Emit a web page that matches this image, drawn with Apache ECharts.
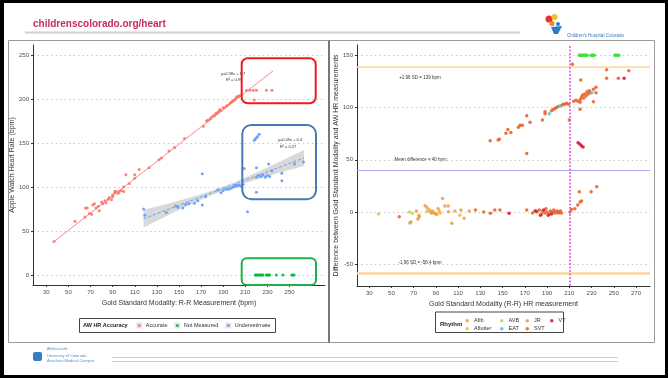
<!DOCTYPE html>
<html><head><meta charset="utf-8">
<script src="https://cdn.jsdelivr.net/npm/echarts@6/dist/echarts.min.js"></script>
<style>html,body{margin:0;padding:0;background:#fff}#c{width:668px;height:378px}</style>
</head><body><div id="c"></div>
<script>
// ---------- LEFT PLOT DATA (Apple Watch HR vs Gold standard) ----------
const accurate = [[37,38],[56,61],[65,66],[65.5,76],[67,76],[69,70],[71,69],[72,79.5],[73.5,81],[75,76],[77,78],[78,73],[80,83],[81,81],[83,84.5],[84,82],[86,86],[87,88],[89,85.5],[90,91],[90,89],[92,93.5],[92,95],[93,95],[95,93],[96,95],[98,96],[100,95],[100,100],[102,114],[105,104],[110,110],[110,114],[114,120],[123,122],[132,131],[134,133],[141,141],[146,145],[155,155],[172,169],[175,175],[176,176],[178,177],[179,179],[181,181],[182,181],[183,183],[184,184],[185,184],[186,186],[187,188],[188,187],[190,190],[191,190],[193,192],[194,193],[196,195],[197,196],[198,197],[199,198],[200,199],[201,200],[202,202],[203,203],[204,203],[205,204],[211,210],[214,210],[217,210],[220,210],[229,210],[234,210],[218,199]];
const notMeasured = [[219,0],[220,0],[221,0],[222,0],[223,0],[224,0],[225,0],[226,0],[229,0],[230,0],[231,0],[232,0],[238,0],[244,0],[252,0],[253,0],[254,0]];
const underestimate = [[118,75],[119,68],[138.5,71],[147,78.4],[149,77],[153.5,76],[156,80],[159,81],[164,81.4],[167,84.4],[171,115],[171,79.5],[174,89],[185,96.6],[188,93.5],[190,96],[192.7,97.3],[195,97.3],[197,98.6],[198.6,99.8],[200,100.6],[201.6,102],[203,101],[204.5,102],[206,101],[208,103],[209,121],[212,72],[218,153],[219,154.5],[220,156],[221,157.5],[222.5,160],[220,122],[220,94],[220,111],[222,113],[224,112],[226,114],[228,111],[230,113],[232,112],[231,126],[234,118.5],[243,115.5],[243,107],[254.5,126],[262.5,128.5]];
const fitAccurate = [[37,38],[235,232]];
const fitUnder = [[118,64],[263,133]];
const bandX = [118,140,160,180,200,220,240,263];
const bandLow = [54,68,80,91,100.5,108.5,116,124];
const bandHigh = [74,81,88,96,105.5,116.5,128,142];
const leftXTicks = [30,50,70,90,110,130,150,170,190,210,230,250];
const leftYTicks = [0,50,100,150,200,250];

// ---------- RIGHT PLOT DATA (Bland-Altman style) ----------
const afib = [[72.5,1],[74.7,-3],[80.3,6],[82,4],[84,2],[87,1],[89,-1],[92,3],[96,13],[98,5.7],[101,5.7],[101.4,0.3],[104.3,-10.8],[107,1],[112.5,2],[115.4,-6],[120,1]];
const aflutter = [[85,0],[88,-1],[91,-2.5],[93,1],[94,-1],[111.5,-3]];
const avb = [[38.4,-2],[66.2,0],[69,-1.3],[82,0.5]];
const eat = [[192,94],[201.7,101.4],[230.2,114.2]];
const jr = [[66.6,-10.5],[67.5,-9.5],[73.8,-6.7],[75,-4.5],[86,-1],[90,-2]];
const svt = [[57,-4.5],[138.8,68.2],[146,68.9],[147,69.5],[153,75.3],[154.7,79],[157.4,76],[164.2,81],[165.7,83],[167.7,83],[171.7,92],[171.7,56],[174.7,86],[185.8,88],[188.2,96],[188.2,94],[194,97],[195.5,98],[197,99],[198.5,100],[200,101],[203,102],[204.5,103],[206,103],[207.5,104],[209.2,103],[210,88],[212.8,141.3],[214,106],[216,107],[218,106],[219.7,98.3],[219.7,105],[220.3,126.3],[220,108],[221,110],[222,112],[223,109],[224,113],[225,111],[226,115],[227,113],[228,116],[229,114],[231.7,105.6],[231.7,117.5],[234,119.3],[234,114],[243.6,136],[243.6,128],[254.1,128],[263.5,135.2],[125.6,2],[133,0],[139,-1.3],[143,2],[147.6,2],[171.7,2],[177,-1],[179,1],[181,0],[183,2],[185,-2],[186,1],[188,-1],[189,3],[190,0],[192,-2],[193,1],[195,0],[196,2],[197,-1],[198,0],[199,1],[200,-1],[201,0],[202,1],[203,-1],[210.7,0],[212,2.5],[215,3],[217.6,6.7],[219.7,9.6],[221,10.5],[219,19.4],[229.6,19.4],[234.7,24.2]];
const vt = [[155.8,-1.3],[180,1],[184,-3],[187,2],[191,-3],[194,-2],[217.9,66.3],[219.4,65],[220.9,63.5],[222.4,62.2],[259.3,128]];
const notMeasuredDiff = [[219,150],[220,150],[221,150],[222,150],[223,150],[224,150],[225,150],[226,150],[229.6,150],[230.5,150],[231.5,150],[232.5,150],[251,150],[252,150],[253,150],[254.5,150]];
const upperSD = 139, meanDiff = 40, lowerSD = -58.4, cutoffX = 210;
const rightXTicks = [30,50,70,90,110,130,150,170,190,210,230,250,270];
const rightYTicks = [-50,0,50,100,150];

const FONT = "'Liberation Sans', Arial, sans-serif";

function xAx(gi, min, max, ticks, name, gap) {
  return {type:'value', gridIndex:gi, min, max, name, nameLocation:'middle', nameGap:gap,
    nameTextStyle:{fontSize:7, color:'#333', fontFamily:FONT},
    axisLine:{show:true, onZero:false, lineStyle:{color:'#333', width:1}},
    axisTick:{show:true, length:2, customValues:ticks, lineStyle:{color:'#333'}},
    axisLabel:{customValues:ticks, fontSize:6, color:'#4d4d4d', margin:4, fontFamily:FONT},
    splitLine:{show:false}};
}
function yAx(gi, min, max, ticks, name, gap) {
  return {type:'value', gridIndex:gi, min, max, name, nameLocation:'middle', nameGap:gap,
    nameTextStyle:{fontSize:7, color:'#333', fontFamily:FONT},
    axisLine:{show:true, onZero:false, lineStyle:{color:'#333', width:1}},
    axisTick:{show:true, length:2, customValues:ticks, lineStyle:{color:'#333'}},
    axisLabel:{customValues:ticks, fontSize:6, color:'#4d4d4d', margin:4, fontFamily:FONT},
    splitLine:{show:true, lineStyle:{type:[1.5,3], color:'#c8c8c8', width:1}}};
}
function leg(name, left, top, size, gap) {
  return {data:[name], left, top, padding:0, itemWidth:size, itemHeight:size, itemTextGap:gap,
    icon:'circle', selectedMode:false, orient:'horizontal',
    textStyle:{fontSize:5.5, color:'#333', fontFamily:FONT, lineHeight:7}};
}
function sc(name, data, color, gi, size) {
  return {type:'scatter', name, data, xAxisIndex:gi, yAxisIndex:gi, symbolSize:size||3,
    itemStyle:{color, opacity:0.9}, silent:true};
}

const chart = echarts.init(document.getElementById('c'));
const option = {
  animation:false,
  backgroundColor:'#fff',
  grid:[
    {left:33, right:343, top:45, bottom:93, outerBoundsMode:'none'},
    {left:357, right:18, top:45, bottom:92, outerBoundsMode:'none'}
  ],
  xAxis:[
    xAx(0, 18, 282, leftXTicks, 'Gold Standard Modality: R-R Measurement (bpm)', 11.5),
    xAx(1, 19, 282.6, rightXTicks, 'Gold Standard Modality (R-R) HR measurement', 10.5)
  ],
  yAxis:[
    yAx(0, -11.4, 261.4, leftYTicks, 'Apple Watch Heart Rate (bpm)', 17.5),
    yAx(1, -70.8, 159.8, rightYTicks, 'Difference between Gold Standard Modality and AW HR measurements', 15.5)
  ],
  legend:[
    leg('Accurate', 137.8, 322, 3, 5),
    leg('Not Measured', 175.8, 322, 3, 5),
    leg('Underestimate', 226.8, 322, 3, 5),
    leg('Afib', 465.5, 317.2, 3.5, 6),
    leg('Aflutter', 465.5, 325.2, 3.5, 6),
    leg('AVB', 500, 317.2, 3.5, 6),
    leg('EAT', 500, 325.2, 3.5, 6),
    leg('JR', 525.5, 317.2, 3.5, 6),
    leg('SVT', 525.5, 325.2, 3.5, 6),
    leg('VT', 550, 317.2, 3.5, 6)
  ],
  series:[
    {type:'custom', name:'band', xAxisIndex:0, yAxisIndex:0, data:[0], silent:true,
      renderItem:function(params, api){
        const pts=[];
        for(let i=0;i<bandX.length;i++) pts.push(api.coord([bandX[i], bandHigh[i]]));
        for(let i=bandX.length-1;i>=0;i--) pts.push(api.coord([bandX[i], bandLow[i]]));
        return {type:'polygon', shape:{points:pts}, style:{fill:'rgba(160,160,160,0.4)'}};
      }},
    {type:'line', name:'fitUnder', data:fitUnder, xAxisIndex:0, yAxisIndex:0, symbol:'none', silent:true,
      lineStyle:{color:'#619CFF', width:1, type:[3,2]}},
    {type:'line', name:'fitAcc', data:fitAccurate, xAxisIndex:0, yAxisIndex:0, symbol:'none', silent:true,
      lineStyle:{color:'#F8766D', width:1, opacity:0.85}},
    sc('Accurate', accurate, '#F8766D', 0, 3),
    sc('Not Measured', notMeasured, '#00BA38', 0, 3),
    sc('Underestimate', underestimate, '#619CFF', 0, 3),
    Object.assign(sc('nmDiff', notMeasuredDiff, '#3CE03C', 1, 3.5), {
      markLine:{symbol:'none', silent:true, label:{show:false}, animation:false,
        data:[
          {yAxis:upperSD, lineStyle:{color:'#FDD49E', width:1.5, type:'solid'}},
          {yAxis:meanDiff, lineStyle:{color:'#A9A9F2', width:1, type:'solid'}},
          {yAxis:lowerSD, lineStyle:{color:'#FDD49E', width:2.5, type:'solid'}},
          {xAxis:cutoffX, lineStyle:{color:'#E050E0', width:1.5, type:[2,1.5]}}
        ]}}),
    sc('AVB', avb, '#C2D655', 1, 3.5),
    sc('Aflutter', aflutter, '#F2C031', 1, 3.5),
    sc('JR', jr, '#E39A4E', 1, 3.5),
    sc('Afib', afib, '#F2A052', 1, 3.5),
    sc('SVT', svt, '#E8652C', 1, 3.5),
    sc('EAT', eat, '#5BC0DE', 1, 3.5),
    sc('VT', vt, '#D31D3E', 1, 3.5)
  ],
  graphic:[
    // outer slide frame
    {type:'rect', shape:{x:1.5, y:1.5, width:665, height:375}, style:{fill:'none', stroke:'#000', lineWidth:3}, z:100},
    {type:'rect', shape:{x:0, y:0, width:4, height:378}, style:{fill:'#000'}, z:100},
    // header
    {type:'text', x:33, y:24, style:{text:'childrenscolorado.org/heart', fill:'#C42E58', fontSize:10, fontWeight:'bold', fontFamily:FONT, verticalAlign:'middle'}},
    {type:'line', shape:{x1:25, y1:32.5, x2:520, y2:32.5}, style:{stroke:'#D0D0D0', lineWidth:2}},
    {type:'circle', shape:{cx:549, cy:19, r:3.5}, style:{fill:'#E8322E'}},
    {type:'circle', shape:{cx:554.5, cy:17, r:3}, style:{fill:'#F7C21B'}},
    {type:'circle', shape:{cx:552, cy:23.5, r:2.6}, style:{fill:'#F08A24'}},
    {type:'circle', shape:{cx:558, cy:24, r:2}, style:{fill:'#2C7BC4'}},
    {type:'polygon', shape:{points:[[551,27],[562,26],[558,34],[554,34]]}, style:{fill:'#2C7BC4'}},
    {type:'text', x:567, y:36, style:{text:"Children's Hospital Colorado", fill:'#3A78C0', fontSize:4.5, fontFamily:FONT, verticalAlign:'middle'}},
    // panels
    {type:'rect', shape:{x:8.5, y:40.5, width:320, height:302}, style:{fill:'none', stroke:'#9a9a9a', lineWidth:1}},
    {type:'rect', shape:{x:329.5, y:40.5, width:325, height:302}, style:{fill:'none', stroke:'#9a9a9a', lineWidth:1}},
    {type:'line', shape:{x1:329, y1:40, x2:329, y2:343}, style:{stroke:'#555', lineWidth:1}},
    // left annotations
    {type:'text', x:233, y:73.5, style:{text:'y=0.98x + 1.7', fill:'#333', fontSize:4, fontFamily:FONT, align:'center', verticalAlign:'middle'}},
    {type:'text', x:234, y:80, style:{text:'R² = 0.99', fill:'#333', fontSize:4, fontFamily:FONT, align:'center', verticalAlign:'middle'}},
    {type:'text', x:290, y:139.5, style:{text:'y=0.49x + 6.4', fill:'#333', fontSize:4, fontFamily:FONT, align:'center', verticalAlign:'middle'}},
    {type:'text', x:288, y:146.5, style:{text:'R² = 0.57', fill:'#333', fontSize:4, fontFamily:FONT, align:'center', verticalAlign:'middle'}},
    {type:'rect', shape:{x:241.7, y:58.3, width:74, height:45, r:6}, style:{fill:'none', stroke:'#EE1C1C', lineWidth:2}, z:50},
    {type:'rect', shape:{x:242.3, y:125, width:73.7, height:74.3, r:9}, style:{fill:'none', stroke:'#4A78B5', lineWidth:2}, z:50},
    {type:'rect', shape:{x:241.7, y:258.3, width:74.3, height:26.7, r:5}, style:{fill:'none', stroke:'#1DB04A', lineWidth:2}, z:50},
    // left legend box
    {type:'rect', shape:{x:79.5, y:318.5, width:196, height:14}, style:{fill:'#fff', stroke:'#444', lineWidth:1}, z:-1},
    {type:'text', x:83, y:325.5, style:{text:'AW HR Accuracy', fill:'#222', fontSize:5.5, fontWeight:'bold', fontFamily:FONT, verticalAlign:'middle'}},
    {type:'rect', shape:{x:136.3, y:322.5, width:6, height:6}, style:{fill:'#e6e6e6'}, z:0},
    {type:'rect', shape:{x:174.3, y:322.5, width:6, height:6}, style:{fill:'#e6e6e6'}, z:0},
    {type:'rect', shape:{x:225.3, y:322.5, width:6, height:6}, style:{fill:'#e6e6e6'}, z:0},
    // right annotations
    {type:'text', x:420, y:77.3, style:{text:'+1.96 SD = 139 bpm', fill:'#333', fontSize:4.5, fontFamily:FONT, align:'center', verticalAlign:'middle'}},
    {type:'text', x:420.7, y:160, style:{text:'Mean difference = 40 bpm', fill:'#333', fontSize:4.5, fontFamily:FONT, align:'center', verticalAlign:'middle'}},
    {type:'text', x:420, y:262.7, style:{text:'-1.96 SD = -58.4 bpm', fill:'#333', fontSize:4.5, fontFamily:FONT, align:'center', verticalAlign:'middle'}},
    // right legend box
    {type:'rect', shape:{x:435.5, y:312, width:128, height:20.5}, style:{fill:'#fff', stroke:'#444', lineWidth:1}, z:-1},
    {type:'text', x:440, y:324.5, style:{text:'Rhythm', fill:'#222', fontSize:6, fontWeight:'bold', fontFamily:FONT, verticalAlign:'middle'}},
    // footer
    {type:'rect', shape:{x:33, y:352, width:9, height:9, r:2}, style:{fill:'#3A7CC2'}},
    {type:'text', x:47, y:349.5, style:{text:'Affiliated with', fill:'#5A8FC8', fontSize:3.5, fontFamily:FONT, verticalAlign:'middle'}},
    {type:'text', x:47, y:356, style:{text:'University of Colorado', fill:'#5A8FC8', fontSize:4, fontFamily:FONT, verticalAlign:'middle'}},
    {type:'text', x:47, y:361, style:{text:'Anschutz Medical Campus', fill:'#5A8FC8', fontSize:4, fontFamily:FONT, verticalAlign:'middle'}},
    {type:'line', shape:{x1:112, y1:357.5, x2:618, y2:357.5}, style:{stroke:'#CCCCCC', lineWidth:1}},
    {type:'line', shape:{x1:112, y1:361.5, x2:618, y2:361.5}, style:{stroke:'#CCCCCC', lineWidth:1}}
  ]
};
chart.setOption(option);
</script></body></html>
